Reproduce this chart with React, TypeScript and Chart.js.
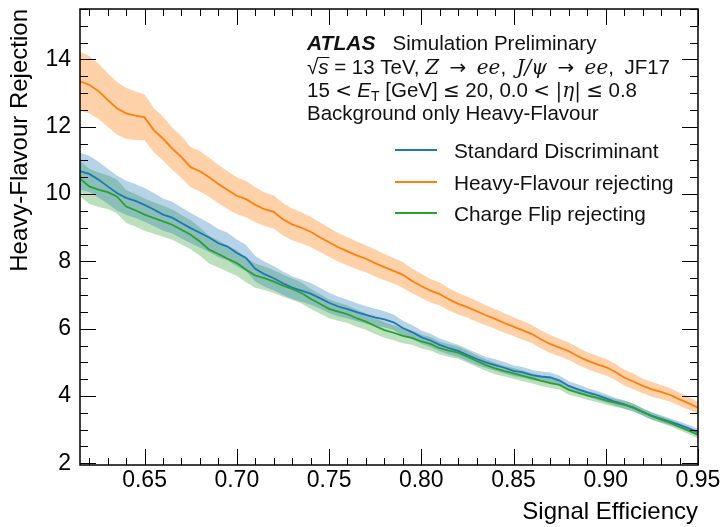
import React, { useEffect, useRef } from "react";
import { Chart, registerables } from "chart.js";

Chart.register(...registerables);

// ---- data -------------------------------------------------------------
const efficiency = [
  0.615, 0.62, 0.625, 0.63, 0.635, 0.64, 0.645, 0.65, 0.655, 0.66, 0.665, 0.67,
  0.675, 0.68, 0.685, 0.69, 0.695, 0.7, 0.705, 0.71, 0.715, 0.72, 0.725, 0.73,
  0.735, 0.74, 0.745, 0.75, 0.755, 0.76, 0.765, 0.77, 0.775, 0.78, 0.785, 0.79,
  0.795, 0.8, 0.805, 0.81, 0.815, 0.82, 0.825, 0.83, 0.835, 0.84, 0.845, 0.85,
  0.855, 0.86, 0.865, 0.87, 0.875, 0.88, 0.885, 0.89, 0.895, 0.9, 0.905, 0.91,
  0.915, 0.92, 0.925, 0.93, 0.935, 0.94, 0.945, 0.95,
];

const standardRej = [
  10.68, 10.6, 10.43, 10.23, 10.03, 9.89, 9.8, 9.68, 9.54, 9.39, 9.3, 9.14,
  8.99, 8.85, 8.71, 8.54, 8.44, 8.25, 8.1, 7.78, 7.62, 7.5, 7.35, 7.22,
  7.13, 7.04, 6.91, 6.77, 6.66, 6.58, 6.49, 6.41, 6.34, 6.28, 6.19, 6.02,
  5.9, 5.75, 5.65, 5.52, 5.42, 5.34, 5.22, 5.1, 5.0, 4.92, 4.84, 4.75,
  4.7, 4.62, 4.58, 4.55, 4.46, 4.3, 4.2, 4.11, 4.03, 3.93, 3.83, 3.75,
  3.65, 3.53, 3.41, 3.32, 3.23, 3.14, 3.04, 2.92,
];
const standardErr = [
  0.55, 0.54, 0.53, 0.52, 0.52, 0.51,
  0.5, 0.5, 0.49, 0.48, 0.47, 0.46, 0.45, 0.44, 0.43, 0.42, 0.41, 0.4,
  0.39, 0.38, 0.37, 0.36, 0.35, 0.34, 0.33, 0.32, 0.31, 0.3,
  0.29, 0.28, 0.27, 0.26, 0.25, 0.24, 0.23, 0.22, 0.21, 0.2,
  0.2, 0.19, 0.19, 0.18, 0.18, 0.18, 0.17, 0.17, 0.17, 0.16,
  0.16, 0.15, 0.15, 0.15, 0.14, 0.14, 0.14, 0.13, 0.13, 0.13,
  0.12, 0.12, 0.12, 0.11, 0.11, 0.11, 0.1, 0.1, 0.1, 0.1,
];

const heavyFlavourRej = [
  13.35, 13.25, 13.06, 12.8, 12.55, 12.4, 12.33, 12.28, 11.9, 11.65, 11.35, 11.1,
  10.8, 10.68, 10.5, 10.3, 10.12, 9.95, 9.85, 9.68, 9.55, 9.47, 9.25, 9.1,
  9.0, 8.88, 8.72, 8.57, 8.42, 8.3, 8.18, 8.08, 7.95, 7.83, 7.72, 7.6,
  7.42, 7.27, 7.13, 7.03, 6.87, 6.74, 6.64, 6.52, 6.4, 6.29, 6.17, 6.06,
  5.95, 5.84, 5.68, 5.54, 5.44, 5.33, 5.18, 5.05, 4.95, 4.86, 4.72, 4.55,
  4.43, 4.3, 4.2, 4.12, 4.03, 3.9, 3.78, 3.65,
];
const heavyFlavourErr = [
  0.87, 0.85, 0.82, 0.8, 0.78, 0.76,
  0.72, 0.68, 0.66, 0.65, 0.63, 0.62, 0.6, 0.6, 0.58, 0.57, 0.56, 0.55,
  0.54, 0.52, 0.5, 0.49, 0.48, 0.47, 0.46, 0.45, 0.44, 0.43,
  0.42, 0.42, 0.41, 0.4, 0.4, 0.39, 0.38, 0.38, 0.37, 0.36,
  0.35, 0.34, 0.33, 0.32, 0.31, 0.31, 0.3, 0.29, 0.29, 0.28,
  0.28, 0.27, 0.27, 0.27, 0.26, 0.26, 0.26, 0.25, 0.25, 0.25,
  0.24, 0.24, 0.23, 0.22, 0.22, 0.21, 0.2, 0.2, 0.19, 0.18,
];

const chargeFlipRej = [
  10.46, 10.23, 10.13, 10.06, 9.93, 9.63, 9.52, 9.39, 9.29, 9.19, 9.09, 8.94,
  8.79, 8.59, 8.35, 8.22, 8.08, 7.95, 7.75, 7.58, 7.5, 7.4, 7.28, 7.18,
  7.06, 6.89, 6.74, 6.59, 6.51, 6.43, 6.31, 6.21, 6.08, 5.96, 5.88, 5.79,
  5.73, 5.62, 5.55, 5.42, 5.35, 5.29, 5.17, 5.04, 4.92, 4.82, 4.74, 4.67,
  4.6, 4.53, 4.45, 4.38, 4.33, 4.18, 4.1, 4.02, 3.95, 3.87, 3.8, 3.74,
  3.66, 3.52, 3.4, 3.3, 3.2, 3.08, 2.97, 2.84,
];
const chargeFlipErr = [
  0.52, 0.52, 0.51, 0.5, 0.5, 0.49,
  0.48, 0.48, 0.47, 0.46, 0.45, 0.44, 0.43, 0.42, 0.41, 0.4, 0.39, 0.38,
  0.37, 0.36, 0.35, 0.34, 0.33, 0.32, 0.31, 0.3, 0.29, 0.28,
  0.27, 0.26, 0.25, 0.24, 0.24, 0.23, 0.22, 0.22, 0.21, 0.21,
  0.2, 0.19, 0.19, 0.18, 0.18, 0.17, 0.17, 0.17, 0.16, 0.16,
  0.16, 0.15, 0.15, 0.14, 0.14, 0.14, 0.13, 0.13, 0.13, 0.12,
  0.12, 0.12, 0.11, 0.11, 0.11, 0.1, 0.1, 0.1, 0.1, 0.1,
];

const seriesNames = ["Standard Discriminant", "Heavy-Flavour rejecting", "Charge Flip rejecting"];
const seriesColors = ["#1f77b4", "#ff7f0e", "#2ca02c"];
const bandColors = ["rgba(31,119,180,0.32)", "rgba(255,127,14,0.36)", "rgba(44,160,44,0.32)"];

const xTickValues = [0.65, 0.7, 0.75, 0.8, 0.85, 0.9, 0.95];
const yTickValues = [2, 4, 6, 8, 10, 12, 14];
const xTitle = "Signal Efficiency";
const yTitle = "Heavy-Flavour Rejection";

const SANS = "'Liberation Sans', Arial, Helvetica, sans-serif";
const MATH = "'DejaVu Serif', 'Liberation Serif', serif";
const SYM = "'DejaVu Sans', sans-serif";

// ---- drawing helpers --------------------------------------------------
type Run = { t: string; f: string; dy?: number; over?: boolean; sp?: boolean };

// draws runs left to right; "sp" runs are stretched so the line spans targetW
function drawRuns(ctx: CanvasRenderingContext2D, x: number, y: number, runs: Run[], targetW?: number) {
  const widths = runs.map((r) => {
    ctx.font = r.f;
    return ctx.measureText(r.t).width;
  });
  const natural = widths.reduce((s, w) => s + w, 0);
  const nsp = runs.filter((r) => r.sp).length;
  const extra = targetW && nsp ? (targetW - natural) / nsp : 0;
  let cx = x;
  runs.forEach((r, i) => {
    ctx.font = r.f;
    const w = widths[i];
    ctx.fillText(r.t, cx, y + (r.dy || 0));
    if (r.over) {
      ctx.beginPath();
      ctx.lineWidth = 1;
      ctx.moveTo(cx - 1, y - 16.5);
      ctx.lineTo(cx + w + 1, y - 16.5);
      ctx.stroke();
    }
    cx += w + (r.sp ? extra : 0);
  });
}

const decorPlugin = {
  id: "atlasDecor",
  afterDraw(chart: any) {
    const { ctx, chartArea: a } = chart;
    const xs = chart.scales.x;
    const ys = chart.scales.y;
    ctx.save();
    ctx.strokeStyle = "#000";
    ctx.fillStyle = "#000";

    // ticks (inward, all four sides)
    ctx.lineWidth = 1;
    ctx.beginPath();
    for (let k = 62; k <= 95; k++) {
      const v = k / 100;
      const len = k % 5 === 0 ? 16 : 7;
      const px = Math.round(xs.getPixelForValue(v)) + 0.5;
      ctx.moveTo(px, a.bottom);
      ctx.lineTo(px, a.bottom - len);
      ctx.moveTo(px, a.top);
      ctx.lineTo(px, a.top + len);
    }
    for (let k = 4; k <= 31; k++) {
      const v = k / 2;
      const len = k % 4 === 0 ? 16 : 8;
      const py = Math.round(ys.getPixelForValue(v)) + 0.5;
      ctx.moveTo(a.left, py);
      ctx.lineTo(a.left + len, py);
      ctx.moveTo(a.right, py);
      ctx.lineTo(a.right - len, py);
    }
    ctx.stroke();

    // frame
    ctx.lineWidth = 1.5;
    ctx.strokeRect(a.left, a.top, a.right - a.left, a.bottom - a.top);

    // header text
    ctx.textAlign = "left";
    ctx.textBaseline = "alphabetic";
    ctx.fillStyle = "#111";
    ctx.strokeStyle = "#111";
    const F = `20.5px ${SANS}`;
    const FI = `italic 20.5px ${SANS}`;
    const M = `italic 20px ${MATH}`;
    const S = `20px ${SYM}`;
    const hx = 307;
    drawRuns(ctx, hx, 50, [
      { t: "ATLAS", f: `italic bold 21px ${SANS}` },
      { t: "   Simulation Preliminary", f: F },
    ]);
    drawRuns(
      ctx,
      hx,
      74,
      [
        { t: "\u221A", f: F },
        { t: "s", f: FI, over: true },
        { t: " = 13 TeV, ", f: F },
        { t: "Z", f: M },
        { t: " ", f: F, sp: true },
        { t: "\u2192", f: S },
        { t: " ", f: F, sp: true },
        { t: "ee", f: M },
        { t: ", ", f: F, sp: true },
        { t: "J/\u03C8", f: M },
        { t: " ", f: F, sp: true },
        { t: "\u2192", f: S },
        { t: " ", f: F, sp: true },
        { t: "ee", f: M },
        { t: ", ", f: F, sp: true },
        { t: "JF17", f: F },
      ],
      363
    );
    drawRuns(
      ctx,
      hx,
      97,
      [
        { t: "15", f: F },
        { t: " ", f: F, sp: true },
        { t: "<", f: S },
        { t: " ", f: F, sp: true },
        { t: "E", f: FI },
        { t: "T", f: `14px ${SANS}`, dy: 4 },
        { t: " [GeV]", f: F },
        { t: " ", f: F, sp: true },
        { t: "\u2264", f: S },
        { t: " ", f: F, sp: true },
        { t: "20, 0.0", f: F },
        { t: " ", f: F, sp: true },
        { t: "<", f: S },
        { t: " ", f: F, sp: true },
        { t: "|", f: `20px ${MATH}` },
        { t: "\u03B7", f: M },
        { t: "|", f: `20px ${MATH}` },
        { t: " ", f: F, sp: true },
        { t: "\u2264", f: S },
        { t: " ", f: F, sp: true },
        { t: "0.8", f: F },
      ],
      330
    );
    drawRuns(ctx, hx, 120, [{ t: "Background only Heavy-Flavour", f: F }]);

    // legend
    const legY = [150, 182, 213];
    ctx.font = `20.8px ${SANS}`;
    seriesNames.forEach((name, i) => {
      ctx.strokeStyle = seriesColors[i];
      ctx.lineWidth = 2;
      ctx.beginPath();
      ctx.moveTo(395, legY[i]);
      ctx.lineTo(437, legY[i]);
      ctx.stroke();
      ctx.fillStyle = "#111";
      ctx.fillText(name, 454, legY[i] + 8);
    });
    ctx.restore();
  },
};

function bandDatasets(vals: number[], errs: number[], i: number) {
  return [
    {
      label: seriesNames[i] + " up",
      data: efficiency.map((x, k) => ({ x, y: vals[k] + errs[k] })),
      borderWidth: 0,
      pointRadius: 0,
      backgroundColor: bandColors[i],
      fill: "+1",
      order: 10,
    },
    {
      label: seriesNames[i] + " down",
      data: efficiency.map((x, k) => ({ x, y: vals[k] - errs[k] })),
      borderWidth: 0,
      pointRadius: 0,
      backgroundColor: bandColors[i],
      fill: false,
      order: 10,
    },
  ];
}

function lineDataset(vals: number[], i: number) {
  return {
    label: seriesNames[i],
    data: efficiency.map((x, k) => ({ x, y: vals[k] })),
    borderColor: seriesColors[i],
    borderWidth: 1.8,
    pointRadius: 0,
    fill: false,
    order: 3 - i,
  };
}

export default function App() {
  const ref = useRef<HTMLCanvasElement | null>(null);

  useEffect(() => {
    if (!ref.current) return;
    const chart = new Chart(ref.current, {
      type: "line",
      data: {
        datasets: [
          ...bandDatasets(standardRej, standardErr, 0),
          ...bandDatasets(heavyFlavourRej, heavyFlavourErr, 1),
          ...bandDatasets(chargeFlipRej, chargeFlipErr, 2),
          lineDataset(standardRej, 0),
          lineDataset(heavyFlavourRej, 1),
          lineDataset(chargeFlipRej, 2),
        ] as any,
      },
      options: {
        responsive: false,
        animation: false,
        devicePixelRatio: 1,
        layout: { padding: { top: 9, right: 27, left: 0, bottom: 0 } },
        elements: { line: { tension: 0 }, point: { radius: 0 } },
        plugins: { legend: { display: false }, tooltip: { enabled: false } },
        scales: {
          x: {
            type: "linear",
            min: 0.615,
            max: 0.95,
            grid: { display: false, drawTicks: false },
            border: { display: false },
            ticks: {
              padding: 2,
              color: "#000",
              font: { family: SANS, size: 23 },
              maxRotation: 0,
              autoSkip: false,
              callback: (v: any) => Number(v).toFixed(2),
            },
            afterBuildTicks: (s: any) => {
              s.ticks = xTickValues.map((v) => ({ value: v }));
            },
            afterFit: (s: any) => {
              s.height = 62;
              s.paddingLeft = 0;
              s.paddingRight = 0;
            },
            title: {
              display: true,
              text: xTitle,
              align: "end",
              color: "#000",
              font: { family: SANS, size: 24 },
              padding: { top: 0, bottom: 0 },
            },
          },
          y: {
            type: "linear",
            min: 1.95,
            max: 15.5,
            grid: { display: false, drawTicks: false },
            border: { display: false },
            ticks: {
              padding: 9,
              color: "#000",
              font: { family: SANS, size: 23 },
              autoSkip: false,
              callback: (v: any) => String(v),
            },
            afterBuildTicks: (s: any) => {
              s.ticks = yTickValues.map((v) => ({ value: v }));
            },
            afterFit: (s: any) => {
              s.width = 80;
              s.paddingTop = 0;
              s.paddingBottom = 0;
            },
            title: {
              display: true,
              text: yTitle,
              align: "end",
              color: "#000",
              font: { family: SANS, size: 24 },
              padding: { top: 6, bottom: 0 },
            },
          },
        },
      } as any,
      plugins: [decorPlugin],
    });
    return () => chart.destroy();
  }, []);

  return (
    <div style={{ position: "fixed", left: 0, top: 0, width: 725, height: 527, background: "#fff" }}>
      <canvas ref={ref} width={725} height={527} style={{ display: "block" }} />
    </div>
  );
}
